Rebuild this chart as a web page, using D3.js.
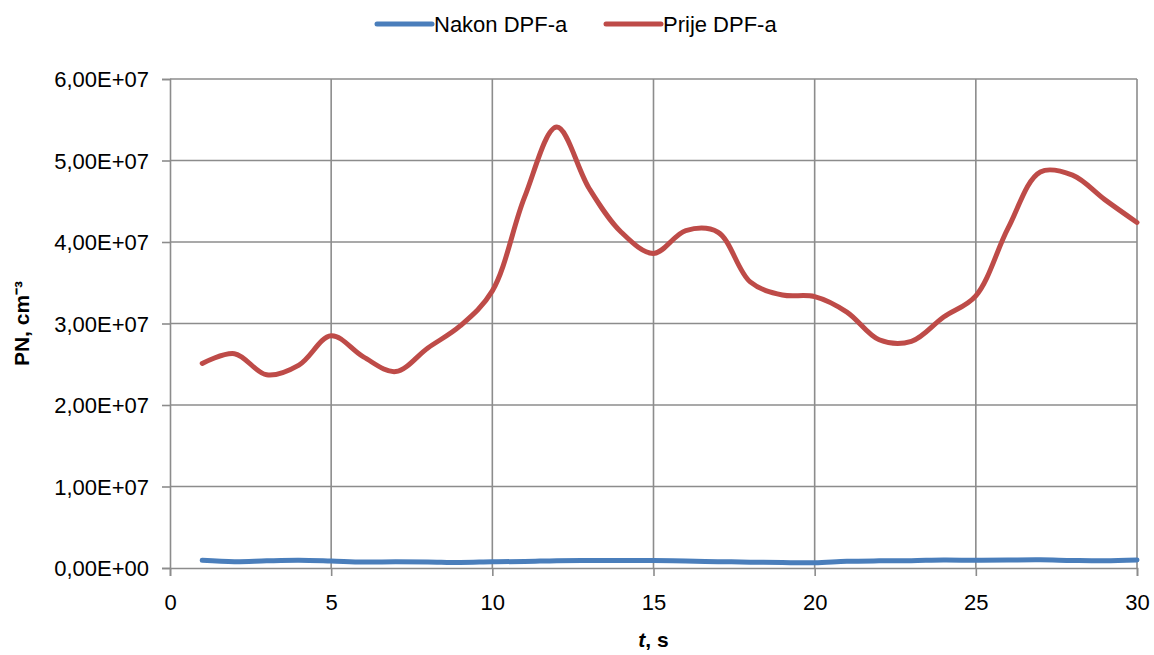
<!DOCTYPE html>
<html>
<head>
<meta charset="utf-8">
<script src="https://cdn.jsdelivr.net/npm/d3@7"></script>
<style>
  body { margin: 0; background: #fff; }
  svg text { font-family: "Liberation Sans", Arial, sans-serif; fill: #000; }
</style>
</head>
<body>
<div class="chart"></div>
<script>
// time in seconds
var seconds = d3.range(1, 31);

// PN, cm^-3 after DPF (Nakon DPF-a)
var nakonDPF = [0.95e6, 0.78e6, 0.88e6, 0.94e6, 0.85e6, 0.73e6, 0.77e6, 0.75e6, 0.68e6, 0.76e6,
                0.80e6, 0.90e6, 0.92e6, 0.92e6, 0.92e6, 0.85e6, 0.78e6, 0.72e6, 0.66e6, 0.64e6,
                0.82e6, 0.88e6, 0.90e6, 0.98e6, 0.95e6, 0.98e6, 1.0e6, 0.92e6, 0.88e6, 0.98e6];

// PN, cm^-3 before DPF (Prije DPF-a)
var prijeDPF = [2.51e7, 2.63e7, 2.37e7, 2.49e7, 2.85e7, 2.59e7, 2.41e7, 2.70e7, 2.97e7, 3.40e7,
                4.55e7, 5.41e7, 4.66e7, 4.12e7, 3.86e7, 4.14e7, 4.12e7, 3.51e7, 3.35e7, 3.33e7,
                3.14e7, 2.80e7, 2.78e7, 3.08e7, 3.34e7, 4.17e7, 4.86e7, 4.82e7, 4.52e7, 4.24e7];

var xTicks = [0, 5, 10, 15, 20, 25, 30];
var yTicks = [0, 1e7, 2e7, 3e7, 4e7, 5e7, 6e7];

var series = [
  { name: "Nakon DPF-a", values: nakonDPF, color: "#4A7EBB" },
  { name: "Prije DPF-a", values: prijeDPF, color: "#BE4B48" }
];

var svgWidth = 1154, svgHeight = 655;
var margin = { top: 79, right: 17, bottom: 87, left: 170 };
var width = svgWidth - margin.left - margin.right;
var height = svgHeight - margin.top - margin.bottom;

var svg = d3.select(".chart").append("svg")
  .attr("width", svgWidth)
  .attr("height", svgHeight);

var chartGroup = svg.append("g")
  .attr("transform", `translate(${margin.left}, ${margin.top})`);

var xScale = d3.scaleLinear().domain([0, 30]).range([0, width]);
var yScale = d3.scaleLinear().domain([0, 6e7]).range([height, 0]);

// gridlines
chartGroup.append("g")
  .selectAll("line")
  .data(xTicks.slice(1))
  .enter()
  .append("line")
  .attr("x1", d => xScale(d)).attr("x2", d => xScale(d))
  .attr("y1", 0).attr("y2", height)
  .attr("stroke", "#8C8C8C").attr("stroke-width", 1.6);

chartGroup.append("g")
  .selectAll("line")
  .data(yTicks.slice(1))
  .enter()
  .append("line")
  .attr("x1", 0).attr("x2", width)
  .attr("y1", d => yScale(d)).attr("y2", d => yScale(d))
  .attr("stroke", "#8C8C8C").attr("stroke-width", 1.6);

// axes
var fmt = d => d3.format(".2e")(d).replace(".", ",").replace(/e\+(\d)$/, "E+0$1").replace(/e\+(\d\d)$/, "E+$1");

var bottomAxis = d3.axisBottom(xScale).tickValues(xTicks).tickSize(8).tickPadding(14);
var leftAxis = d3.axisLeft(yScale).tickValues(yTicks).tickSize(8).tickPadding(13).tickFormat(fmt);

var xAxis = chartGroup.append("g")
  .attr("transform", `translate(0, ${height})`)
  .call(bottomAxis);

var yAxis = chartGroup.append("g").call(leftAxis);

[xAxis, yAxis].forEach(a => {
  a.attr("font-size", null).attr("font-family", null);
  a.select(".domain").attr("stroke", "#8C8C8C").attr("stroke-width", 1.6);
  a.selectAll(".tick line").attr("stroke", "#8C8C8C").attr("stroke-width", 1.6);
  a.selectAll(".tick text").style("font-size", "22px");
});
xAxis.selectAll(".tick text").attr("dy", "0.9em");
yAxis.selectAll(".tick text").attr("dy", "0.35em");

// lines
var line = d3.line()
  .x((d, i) => xScale(seconds[i]))
  .y(d => yScale(d))
  .curve(d3.curveCatmullRom.alpha(0.5));

chartGroup.append("g")
  .selectAll("path")
  .data(series)
  .enter()
  .append("path")
  .attr("d", d => line(d.values))
  .attr("fill", "none")
  .attr("stroke", d => d.color)
  .attr("stroke-width", 5)
  .attr("stroke-linecap", "round")
  .attr("stroke-linejoin", "round");

// axis titles
svg.append("text")
  .attr("transform", `translate(29, ${margin.top + height / 2}) rotate(-90)`)
  .style("text-anchor", "middle")
  .style("font-size", "21px")
  .style("font-weight", "bold")
  .text("PN, cm⁻³");

var xTitle = svg.append("text")
  .attr("x", margin.left + width / 2)
  .attr("y", 647)
  .style("text-anchor", "middle")
  .style("font-size", "21px")
  .style("font-weight", "bold");
xTitle.append("tspan").style("font-style", "italic").text("t");
xTitle.append("tspan").text(", s");

// legend
var legendX = [377, 606];
var legend = svg.append("g")
  .selectAll("g")
  .data(series)
  .enter()
  .append("g")
  .attr("transform", (d, i) => `translate(${legendX[i]}, 24)`);

legend.append("line")
  .attr("x1", 0).attr("x2", 55)
  .attr("y1", 0).attr("y2", 0)
  .attr("stroke", d => d.color)
  .attr("stroke-width", 5)
  .attr("stroke-linecap", "round");

legend.append("text")
  .attr("x", 57)
  .attr("y", 0)
  .attr("dy", "0.35em")
  .style("font-size", "22px")
  .text(d => d.name);
</script>
</body>
</html>
